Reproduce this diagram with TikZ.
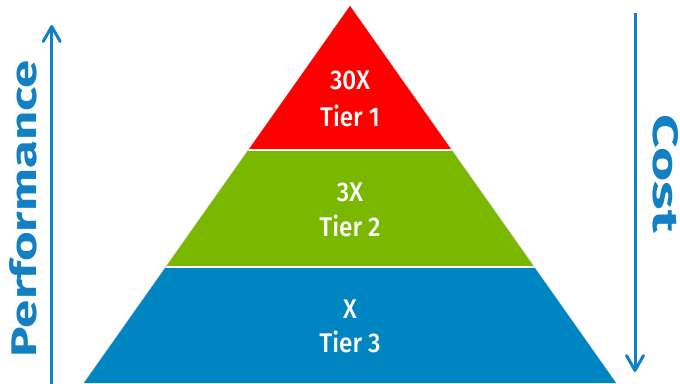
\documentclass[tikz,border=0pt]{standalone}
\usepackage{fontspec}
\setmainfont{Fira Sans}
\newfontfamily\tierfont{Fira Sans Medium}
\usetikzlibrary{arrows.meta}
\definecolor{tierred}{HTML}{FF0000}
\definecolor{tiergreen}{HTML}{7AB800}
\definecolor{tierblue}{HTML}{0085C3}
\definecolor{axisblue}{HTML}{1380C3}
\newcommand{\tiertext}[1]{\scalebox{0.9}[1]{#1}}
\begin{document}
\begin{tikzpicture}[x=1pt,y=-1pt,
  tierlabel/.style={text=white,font=\tierfont\fontsize{27}{28}\selectfont,inner sep=0,anchor=base},
  axisline/.style={draw=axisblue,line width=3pt,-{Straight Barb[length=15pt,width=17pt,line cap=round,round]}},
  axistext/.style={text=axisblue,font=\bfseries,inner sep=0}]
\useasboundingbox (0,0) rectangle (680,383);
\fill[white] (0,0) rectangle (680,383);
% pyramid outline and tiers
\coordinate (apex) at (350,6);
\coordinate (bl) at (84,383);
\coordinate (br) at (616,383);
\draw[black!12,line width=1.5pt,line join=miter] (bl) -- (apex) -- (br);
\begin{scope}
  \clip (bl) -- (apex) -- (br) -- cycle;
  \fill[tierred] (0,0) rectangle (680,148.5);
  \fill[tiergreen] (0,150.5) rectangle (680,265.5);
  \fill[tierblue] (0,268) rectangle (680,390);
\end{scope}
% tier labels
\node[tierlabel] (t1a) at (350,89.5) {\tiertext{30X}};
\node[tierlabel] (t1b) at (350,126.7) {\tiertext{Tier 1}};
\node[tierlabel] (t2a) at (350,201.5) {\tiertext{3X}};
\node[tierlabel] (t2b) at (350,236.5) {\tiertext{Tier 2}};
\node[tierlabel] (t3a) at (350,318) {\tiertext{X}};
\node[tierlabel] (t3b) at (350,352.5) {\tiertext{Tier 3}};
% performance axis
\coordinate (perfbase) at (51.7,392);
\coordinate (perftip) at (51.7,25);
\draw[axisline] (perfbase) -- (perftip);
\node[axistext,rotate=90] (perf) at (23.5,208.5) {\resizebox{297pt}{27pt}{Performance}};
% cost axis
\coordinate (costbase) at (635,13);
\coordinate (costtip) at (635,372);
\draw[axisline] (costbase) -- (costtip);
\node[axistext,rotate=-90] (cost) at (665.5,174) {\resizebox{118pt}{25pt}{Cost}};
\end{tikzpicture}
\end{document}
